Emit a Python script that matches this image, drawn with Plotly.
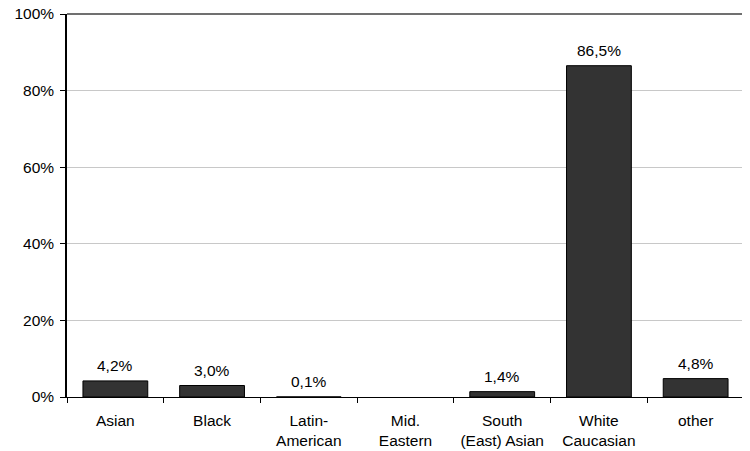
import plotly.graph_objects as go

categories = ["Asian", "Black", "Latin-<br>American", "Mid.<br>Eastern",
              "South<br>(East) Asian", "White<br>Caucasian", "other"]
values = [4.2, 3.0, 0.1, 0.0, 1.4, 86.5, 4.8]
labels = ["4,2%", "3,0%", "0,1%", "", "1,4%", "86,5%", "4,8%"]
y_ticks = [0, 20, 40, 60, 80, 100]
y_ticktext = ["0%", "20%", "40%", "60%", "80%", "100%"]

font = dict(family="Liberation Sans, Arial, sans-serif", size=15.5, color="#000000")
outline_w = [1 if v >= 0.5 else 0 for v in values]

fig = go.Figure(go.Bar(
    x=categories, y=values,
    marker=dict(color="#333333", line=dict(color="#000000", width=outline_w)),
    width=0.67,
))

for cat, val, lab in zip(categories, values, labels):
    if lab:
        fig.add_annotation(x=cat, y=val, text=lab, showarrow=False,
                           yanchor="bottom", yshift=5, font=font)

# page body has an 8px margin, so the figure is offset by 8px
fig.update_layout(
    width=742, height=443,
    margin=dict(l=59, r=6, t=6, b=54, autoexpand=False),
    paper_bgcolor="white", plot_bgcolor="white",
    font=font, showlegend=False,
)
fig.update_xaxes(
    type="category", showline=True, linecolor="#000000", linewidth=1,
    ticks="outside", tickson="boundaries", ticklen=5, tickcolor="#000000",
    showgrid=False, tickfont=font, ticklabelstandoff=9,
)
fig.update_yaxes(
    range=[0, 100], tickvals=y_ticks, ticktext=y_ticktext,
    showline=True, linecolor="#000000", linewidth=1.5,
    ticks="outside", ticklen=5, tickcolor="#000000",
    showgrid=True, gridcolor="#c8c8c8", gridwidth=1,
    zeroline=False, tickfont=font, ticklabelstandoff=3,
    ticklabeloverflow="allow",
)
fig.add_shape(type="line", xref="paper", yref="paper", x0=0, x1=1, y0=1, y1=1,
              line=dict(color="#404040", width=1.5))
fig.add_shape(type="line", xref="paper", yref="paper", x0=1, x1=1, y0=0, y1=1,
              line=dict(color="#000000", width=1))

fig.write_html("out.html")
